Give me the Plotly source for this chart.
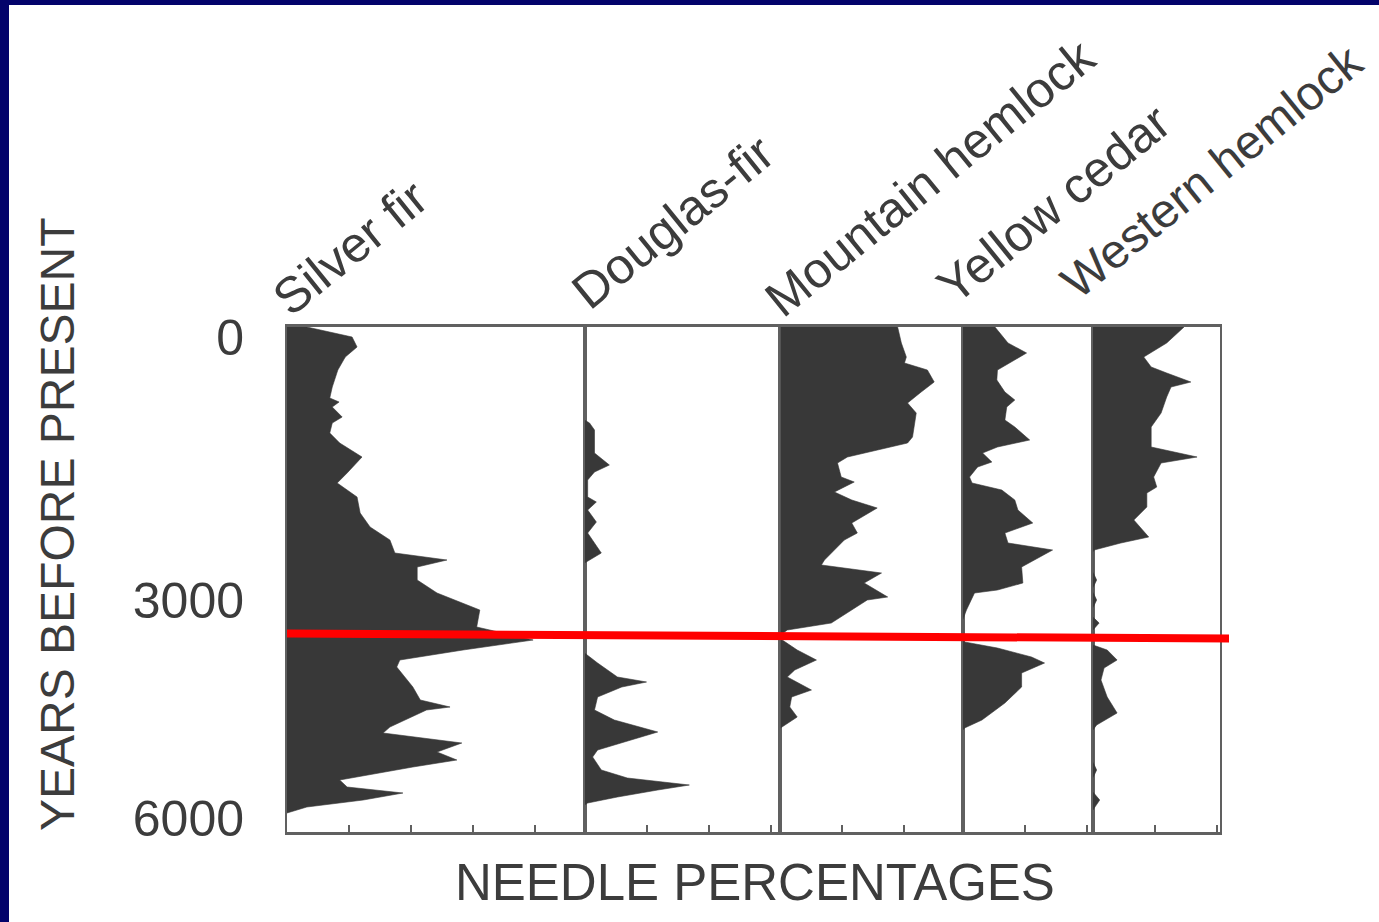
import plotly.graph_objects as go
from plotly.subplots import make_subplots

# ---- core depth scale (cm below surface) and the ages dated at those depths
AGE_LABELS = ["0", "3000", "6000"]
AGE_DEPTHS = [10, 273, 491]
CORE_BOTTOM = 505
TEPHRA_DEPTH_LEFT = 306.5     # marker line across all taxa
TEPHRA_DEPTH_RIGHT = 311.5

# ---- taxa and needle percentage profiles (depth cm, percent)
TAXA = ["Silver fir", "Douglas-fir", "Mountain hemlock", "Yellow cedar", "Western hemlock"]
PANEL_MAX_PCT = [48, 31.6, 29.4, 21, 20.5]

SILVER_FIR_DEPTH = [0, 10, 20, 30, 43, 60, 71, 75, 80, 90, 96, 106, 116, 130, 146, 156,
                    170, 186, 200, 213, 226, 233, 240, 253, 266, 283, 300, 313, 323, 333,
                    340, 360, 373, 380, 383, 400, 406, 416, 425, 433, 440, 453, 460, 466,
                    473, 480, 486]
SILVER_FIR_PCT = [3.2, 10.5, 11.3, 9.4, 8.2, 7.3, 6.9, 8.4, 7.3, 8.9, 7.3, 6.9, 8.5, 12.1,
                  9.7, 8.1, 11.3, 11.8, 13.4, 16.6, 17.4, 25.8, 21, 21, 24.2, 31.1, 30.6,
                  39.7, 28.4, 18.2, 17.7, 20.3, 21.5, 26.3, 22.5, 16.6, 15.5, 28.2, 24.2,
                  27.4, 20.3, 8.5, 9.7, 18.7, 12.3, 3.2, 0]

DOUGLAS_FIR_DEPTH = [93, 96, 103, 126, 138, 145, 153, 170, 175, 183, 195, 206, 226, 235,
                     236, 326, 336, 350, 355, 360, 370, 383, 393, 405, 413, 423, 430, 443,
                     451, 458, 463, 470, 476, 478]
DOUGLAS_FIR_PCT = [0, 0.8, 1.6, 1.6, 4.0, 1.6, 0.5, 0.5, 1.9, 0.5, 1.9, 0.5, 2.7, 0.3,
                   0, 0, 2.1, 5.3, 10, 6, 2.1, 1.6, 4.8, 11.8, 7.6, 2.1, 1.3, 2.7,
                   6.9, 16.9, 11.8, 5.3, 0.5, 0]

MOUNTAIN_HEMLOCK_DEPTH = [0, 16, 30, 36, 43, 55, 65, 76, 86, 110, 116, 130, 136, 150, 155,
                          165, 173, 181, 196, 206, 213, 233, 238, 246, 256, 270, 273, 296,
                          303, 308, 313, 323, 333, 343, 350, 363, 370, 380, 390, 398, 401]
MOUNTAIN_HEMLOCK_PCT = [18.9, 19.5, 20.3, 20, 23.7, 24.8, 22.7, 20.5, 21.9, 21.3, 20.5,
                        10.8, 9.2, 9.8, 11.9, 8.7, 11.5, 15.6, 11.5, 12.4, 10.3, 7.1, 6.6,
                        16.3, 13.5, 17.3, 14, 8.2, 1.1, 0, 0.3, 2.7, 5.8, 2.3, 1.1, 5,
                        1.8, 1.5, 2.7, 0.6, 0]

YELLOW_CEDAR_DEPTH = [0, 16, 26, 43, 53, 65, 73, 80, 93, 100, 113, 120, 126, 135, 140,
                      150, 156, 163, 173, 183, 196, 206, 216, 223, 240, 256, 263, 266,
                      283, 293, 313, 315, 321, 330, 336, 346, 360, 376, 393, 401, 403]
YELLOW_CEDAR_PCT = [5.2, 7.3, 10.3, 5.6, 5.5, 6.8, 8.4, 7.1, 6.8, 8.4, 10.8, 5.6, 3.2,
                    4.7, 2.4, 1.1, 1.5, 6.3, 8.4, 8.9, 11.3, 6.8, 7.3, 14.5, 9.5, 9.7,
                    5.6, 1.9, 0.6, 0, 0, 0.3, 5.6, 11.1, 13.2, 9.5, 9.5, 6.8, 3.1, 0.3, 0]

WESTERN_HEMLOCK_DEPTH = [0, 16, 30, 40, 46, 55, 60, 70, 86, 100, 120, 130, 136, 150, 160,
                         166, 180, 193, 210, 216, 223, 225, 245, 253, 261, 265, 273, 281,
                         290, 296, 303, 318, 323, 333, 341, 353, 370, 386, 398, 403, 435,
                         443, 451, 465, 473, 483]
WESTERN_HEMLOCK_PCT = [14.7, 11.9, 8.2, 9.4, 11.9, 15.8, 12.6, 11.9, 11, 9.4, 9.4, 16.8,
                       11, 9.8, 10.3, 8.7, 8.7, 6.6, 9, 4.5, 0.2, 0, 0, 0.6, 0, 0, 0.6, 0,
                       0, 1.0, 0, 0, 2.3, 3.9, 1.8, 1.3, 2.3, 3.9, 0.6, 0, 0, 0.6, 0, 0,
                       1.1, 0]

PROFILES = [
    (SILVER_FIR_DEPTH, SILVER_FIR_PCT),
    (DOUGLAS_FIR_DEPTH, DOUGLAS_FIR_PCT),
    (MOUNTAIN_HEMLOCK_DEPTH, MOUNTAIN_HEMLOCK_PCT),
    (YELLOW_CEDAR_DEPTH, YELLOW_CEDAR_PCT),
    (WESTERN_HEMLOCK_DEPTH, WESTERN_HEMLOCK_PCT),
]

# ---- styling
W, H = 1379, 922
ML, MR, MT, MB = 287, 159, 327, 90
FONT = "Liberation Sans, Arial, Helvetica, sans-serif"
INK = "#3c3c3c"
FILL = "#383838"
FRAME = "#606060"
NAVY = "#03036b"

PW, PH = W - ML - MR, H - MT - MB


def px_x(px):
    """Figure pixel column -> paper x."""
    return (px - ML) / PW


def px_y(py):
    """Figure pixel row -> paper y."""
    return (H - MB - py) / PH


fig = make_subplots(rows=1, cols=5, shared_yaxes=True, horizontal_spacing=0,
                    column_widths=PANEL_MAX_PCT)

for i, (depth, pct) in enumerate(PROFILES):
    fig.add_trace(
        go.Scatter(x=pct, y=depth, mode="lines", fill="tozerox",
                   fillcolor=FILL, line=dict(color=FILL, width=0.6),
                   hoverinfo="skip", showlegend=False),
        row=1, col=i + 1)
    fig.update_xaxes(range=[0, PANEL_MAX_PCT[i]], tick0=0, dtick=10,
                     ticks="inside", ticklen=7, tickwidth=2, tickcolor=FRAME,
                     showticklabels=False, showgrid=False, zeroline=False,
                     showline=True, linecolor=FRAME, linewidth=2.5, mirror=True,
                     row=1, col=i + 1)
    fig.update_yaxes(range=[CORE_BOTTOM, 0], showgrid=False, zeroline=False,
                     showline=True, linecolor=FRAME, linewidth=2, mirror=True,
                     row=1, col=i + 1)

fig.update_yaxes(tickmode="array", tickvals=AGE_DEPTHS, ticktext=AGE_LABELS,
                 ticks="", ticklabelstandoff=31,
                 tickfont=dict(family=FONT, size=50, color=INK),
                 row=1, col=1)

# species names, set diagonally above their columns
label_centres = [(350, 248), (673, 222), (930, 178), (1054, 204), (1212, 172)]
label_sizes = [50, 50, 50, 50, 48]
annotations = []
for name, (cx, cy), fs in zip(TAXA, label_centres, label_sizes):
    annotations.append(dict(text=name, xref="paper", yref="paper",
                            x=px_x(cx), y=px_y(cy), xanchor="center", yanchor="middle",
                            textangle=-39, showarrow=False,
                            font=dict(family=FONT, size=fs, color=INK)))

annotations.append(dict(text="NEEDLE PERCENTAGES", xref="paper", yref="paper",
                        x=px_x(755), y=px_y(882), xanchor="center", yanchor="middle",
                        showarrow=False, font=dict(family=FONT, size=51, color=INK)))
annotations.append(dict(text="YEARS BEFORE PRESENT", xref="paper", yref="paper",
                        x=px_x(57), y=px_y(525), xanchor="center", yanchor="middle",
                        textangle=-90, showarrow=False,
                        font=dict(family=FONT, size=48, color=INK)))

shapes = [
    # dark blue slide frame along the top and left edges
    dict(type="rect", xref="paper", yref="paper", x0=px_x(0), x1=px_x(W),
         y0=px_y(5), y1=px_y(0), fillcolor=NAVY, line=dict(width=0), layer="above"),
    dict(type="rect", xref="paper", yref="paper", x0=px_x(0), x1=px_x(9),
         y0=px_y(H), y1=px_y(0), fillcolor=NAVY, line=dict(width=0), layer="above"),
    # red marker line across the diagram
    dict(type="line", xref="paper", yref="y", x0=0, x1=px_x(1229),
         y0=TEPHRA_DEPTH_LEFT, y1=TEPHRA_DEPTH_RIGHT,
         line=dict(color="#ff0000", width=8), layer="above"),
]

fig.update_layout(
    width=W, height=H,
    margin=dict(l=ML, r=MR, t=MT, b=MB, pad=0),
    paper_bgcolor="white", plot_bgcolor="white",
    annotations=annotations, shapes=shapes,
    showlegend=False,
)

fig.write_html("out.html", config={"displayModeBar": False})
